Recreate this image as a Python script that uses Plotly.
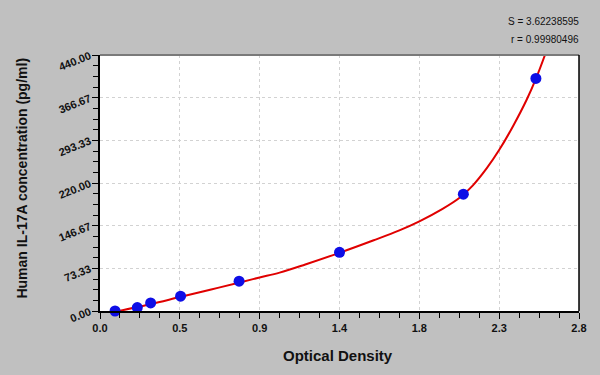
import plotly.graph_objects as go

# Standard points (optical density, concentration)
std_od = [0.088, 0.218, 0.296, 0.471, 0.813, 1.400, 2.124, 2.548]
std_conc = [0.0, 5.9, 13.8, 25.4, 51.2, 100.8, 200.8, 399.8]

# Fitted curve
curve_od = [0.11, 0.20, 0.30, 0.467, 0.65, 0.817, 0.933, 1.05, 1.20, 1.40, 1.60,
            1.75, 1.867, 2.00, 2.104, 2.18, 2.26, 2.334, 2.415, 2.494, 2.552, 2.601, 2.62]
curve_conc = [0.0, 5.5, 12.0, 24.0, 37.0, 49.0, 57.6, 66.0, 80.0, 100.0, 121.5,
              138.5, 154.0, 175.0, 195.0, 216.0, 245.0, 277.0, 318.0, 363.0, 402.0, 440.0, 456.0]

x_tickvals = [0, 2.8 / 6, 2.8 * 2 / 6, 1.4, 2.8 * 4 / 6, 2.8 * 5 / 6, 2.8]
x_ticktext = ["0.0", "0.5", "0.9", "1.4", "1.8", "2.3", "2.8"]
y_tickvals = [0, 73.333, 146.667, 220, 293.333, 366.667, 440]
y_ticktext = ["0.00", "73.33", "146.67", "220.00", "293.33", "366.67", "440.00"]

S_text = "S = 3.62238595"
r_text = "r = 0.99980496"
x_title = "Optical Density"
y_title = "Human IL-17A concentration (pg/ml)"

fig = go.Figure()
fig.add_trace(go.Scatter(x=curve_od, y=curve_conc, mode="lines",
                         line=dict(color="#E00000", width=2, shape="spline", smoothing=1.0),
                         hoverinfo="skip", showlegend=False, cliponaxis=True))
fig.add_trace(go.Scatter(x=std_od, y=std_conc, mode="markers",
                         marker=dict(color="#0E0EE6", size=11, line=dict(width=0)),
                         showlegend=False, cliponaxis=False))

font = "Liberation Sans, Arial, sans-serif"
fig.update_layout(
    width=600, height=375,
    margin=dict(l=100, r=21, t=55, b=64),
    paper_bgcolor="#C0C0C0",
    plot_bgcolor="#FFFFFF",
    font=dict(family=font, color="#111111"),
    xaxis=dict(
        range=[0, 2.8], tickvals=x_tickvals, ticktext=x_ticktext,
        ticks="outside", ticklen=6, tickwidth=1, tickcolor="#000000",
        showline=True, linecolor="#000000", linewidth=2,
        showgrid=True, gridcolor="#D2D2D2", griddash="dot", gridwidth=1,
        zeroline=False,
        tickfont=dict(size=11, family=font, color="#111111", weight="bold"),
        minor=dict(dtick=2.8 / 24, tick0=0, ticks="outside", ticklen=5,
                   tickcolor="#000000", showgrid=False),
    ),
    yaxis=dict(
        range=[0, 440], tickvals=y_tickvals, ticktext=y_ticktext,
        ticks="outside", ticklen=6, tickwidth=1, tickcolor="#000000",
        showline=True, linecolor="#000000", linewidth=2,
        showgrid=True, gridcolor="#D2D2D2", griddash="dot", gridwidth=1,
        zeroline=False, tickangle=-22,
        tickfont=dict(size=11, family=font, color="#111111", weight="bold"),
        minor=dict(dtick=440 / 24, tick0=0, ticks="outside", ticklen=5,
                   tickcolor="#000000", showgrid=False),
    ),
    shapes=[
        dict(type="line", xref="paper", yref="paper", x0=0, x1=1, y0=1, y1=1,
             line=dict(color="#7A7A7A", width=2)),
        dict(type="line", xref="paper", yref="paper", x0=1, x1=1, y0=0, y1=1,
             line=dict(color="#000000", width=1.5)),
    ],
    annotations=[
        dict(text=S_text, xref="paper", yref="paper", x=1.004, y=1.129,
             xanchor="right", yanchor="middle", showarrow=False,
             font=dict(size=10, family=font, color="#111111")),
        dict(text=r_text, xref="paper", yref="paper", x=1.004, y=1.059,
             xanchor="right", yanchor="middle", showarrow=False,
             font=dict(size=10, family=font, color="#111111")),
        dict(text="<b>" + x_title + "</b>", xref="paper", yref="paper", x=0.497, y=-0.172,
             xanchor="center", yanchor="middle", showarrow=False,
             font=dict(size=15, family=font, color="#111111")),
        dict(text="<b>" + y_title + "</b>", xref="paper", yref="paper", x=-0.163, y=0.521,
             xanchor="center", yanchor="middle", showarrow=False, textangle=-90,
             font=dict(size=14, family=font, color="#111111")),
    ],
)

fig.write_html("out.html")
